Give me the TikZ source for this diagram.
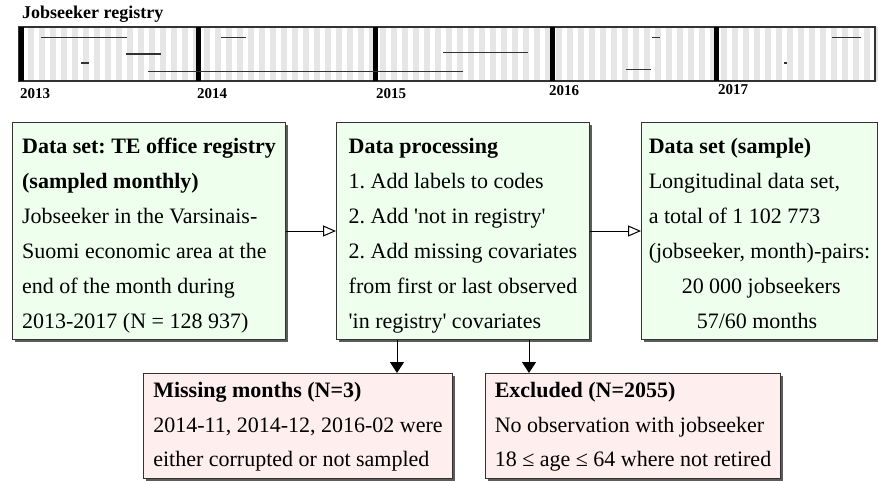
\documentclass[tikz,border=0pt]{standalone}
\usepackage{fontspec}
\setmainfont{Liberation Serif}
\usetikzlibrary{arrows.meta,positioning,shadows}
\frenchspacing

\definecolor{boxgreen}{HTML}{EEFFEE}
\definecolor{boxpink}{HTML}{FFEEEE}
\definecolor{stripegray}{HTML}{E6E6E6}
\definecolor{edgegray}{HTML}{333333}

\newcommand{\hitop}[1]{\rule{0pt}{#1}}
\newcommand{\lowend}[1]{\rule[-#1]{0pt}{#1}}

\tikzset{
  stepbox/.style={draw=edgegray, line width=1pt, fill=boxgreen, align=left,
    anchor=north west, inner xsep=0pt, inner ysep=6pt,
    minimum width=#1, minimum height=216pt,
    font=\fontsize{22}{35}\selectfont,
    drop shadow={shadow xshift=2.5pt, shadow yshift=-2.5pt, fill=black!80, opacity=.8}},
  dropbox/.style={stepbox=#1, fill=boxpink, minimum height=105pt,
    font=\fontsize{22}{34.5}\selectfont},
  flow/.style={-{Triangle[open, length=13pt, width=11pt]}, line width=1pt},
  drop/.style={-{Triangle[length=11pt, width=14pt]}, line width=1pt},
  yearlabel/.style={anchor=base west, inner sep=0pt, font=\fontsize{15}{15}\selectfont\bfseries},
  episode/.style={draw=edgegray, line width=1.5pt},
}

\begin{document}
\begin{tikzpicture}[x=1pt, y=-1pt]
  \useasboundingbox (0,0) rectangle (878,480);

  % registry time line
  \node[anchor=base west, inner sep=0pt, font=\fontsize{18}{18}\selectfont\bfseries] (title) at (22,18) {Jobseeker registry};
  \foreach \m in {0,...,77}
    \fill[stripegray] ({24+\m*11+4},27) rectangle ({24+\m*11+9.5},81);
  \fill[white] (870,27) rectangle (875,81);
  \draw[edgegray, line width=1.2pt] (19,27) rectangle (875,81);
  \foreach \x in {19,196,373,550,714}
    \fill (\x,27) rectangle (\x+5,81);
  \node[yearlabel] (y13) at (20,98) {2013};
  \node[yearlabel] (y14) at (197,98) {2014};
  \node[yearlabel] (y15) at (376,98) {2015};
  \node[yearlabel] (y16) at (549,95) {2016};
  \node[yearlabel] (y17) at (718,94) {2017};

  \draw[episode] (41,37.7) -- (127,37.7);
  \draw[episode] (126,54) -- (161,54);
  \draw[episode] (81,63) -- (89,63);
  \draw[episode] (148,71.7) -- (463,71.7);
  \draw[episode] (221,37.7) -- (246,37.7);
  \draw[episode] (443,52.7) -- (528,52.7);
  \draw[episode] (652,37.5) -- (660,37.5);
  \draw[episode] (626,69.5) -- (651,69.5);
  \draw[episode] (784,63) -- (787,63);
  \draw[episode] (832,37.7) -- (861,37.7);

  % flow chart
  \node[stepbox=273pt] (source) at (12,122)
    {\hitop{25pt}\textbf{Data set: TE office registry}\\
     \textbf{(sampled monthly)}\\
     Jobseeker in the Varsinais-\\
     Suomi economic area at the\\
     end of the month during\\
     2013-2017 (N = 128 937)\lowend{5pt}};
  \node[stepbox=253pt] (process) [right=50pt of source.north east, anchor=north west]
    {\hitop{25pt}\textbf{Data processing}\\
     1. Add labels to codes\\
     2. Add \textquotesingle not in registry\textquotesingle\\
     2. Add missing covariates\\
     from first or last observed\\
     \textquotesingle in registry\textquotesingle{} covariates\lowend{5pt}};
  \node[stepbox=236pt] (sample) [right=51pt of process.north east, anchor=north west]
    {\hitop{25pt}\textbf{Data set (sample)}\\
     Longitudinal data set,\\
     a total of 1 102 773\\
     (jobseeker, month)-pairs:\\
     \hspace*{33pt}20 000 jobseekers\\
     \hspace*{48pt}57/60 months\lowend{5pt}};

  \node[dropbox=309pt] (missing) at (143,373)
    {\hitop{18pt}\textbf{Missing months (N=3)}\\
     2014-11, 2014-12, 2016-02 were\\
     either corrupted or not sampled\lowend{6pt}};
  \node[dropbox=295pt] (excluded) at (485,373)
    {\hitop{18pt}\textbf{Excluded (N=2055)}\\
     No observation with jobseeker\\
     18 ≤ age ≤ 64 where not retired\lowend{6pt}};

  \draw[flow] (source) -- (process);
  \draw[flow] (process) -- (sample);
  \draw[drop] ([xshift=-66pt]process.south) -- ([xshift=-66pt]process.south |- missing.north);
  \draw[drop] ([xshift=66pt]process.south) -- ([xshift=66pt]process.south |- excluded.north);
\end{tikzpicture}
\end{document}
